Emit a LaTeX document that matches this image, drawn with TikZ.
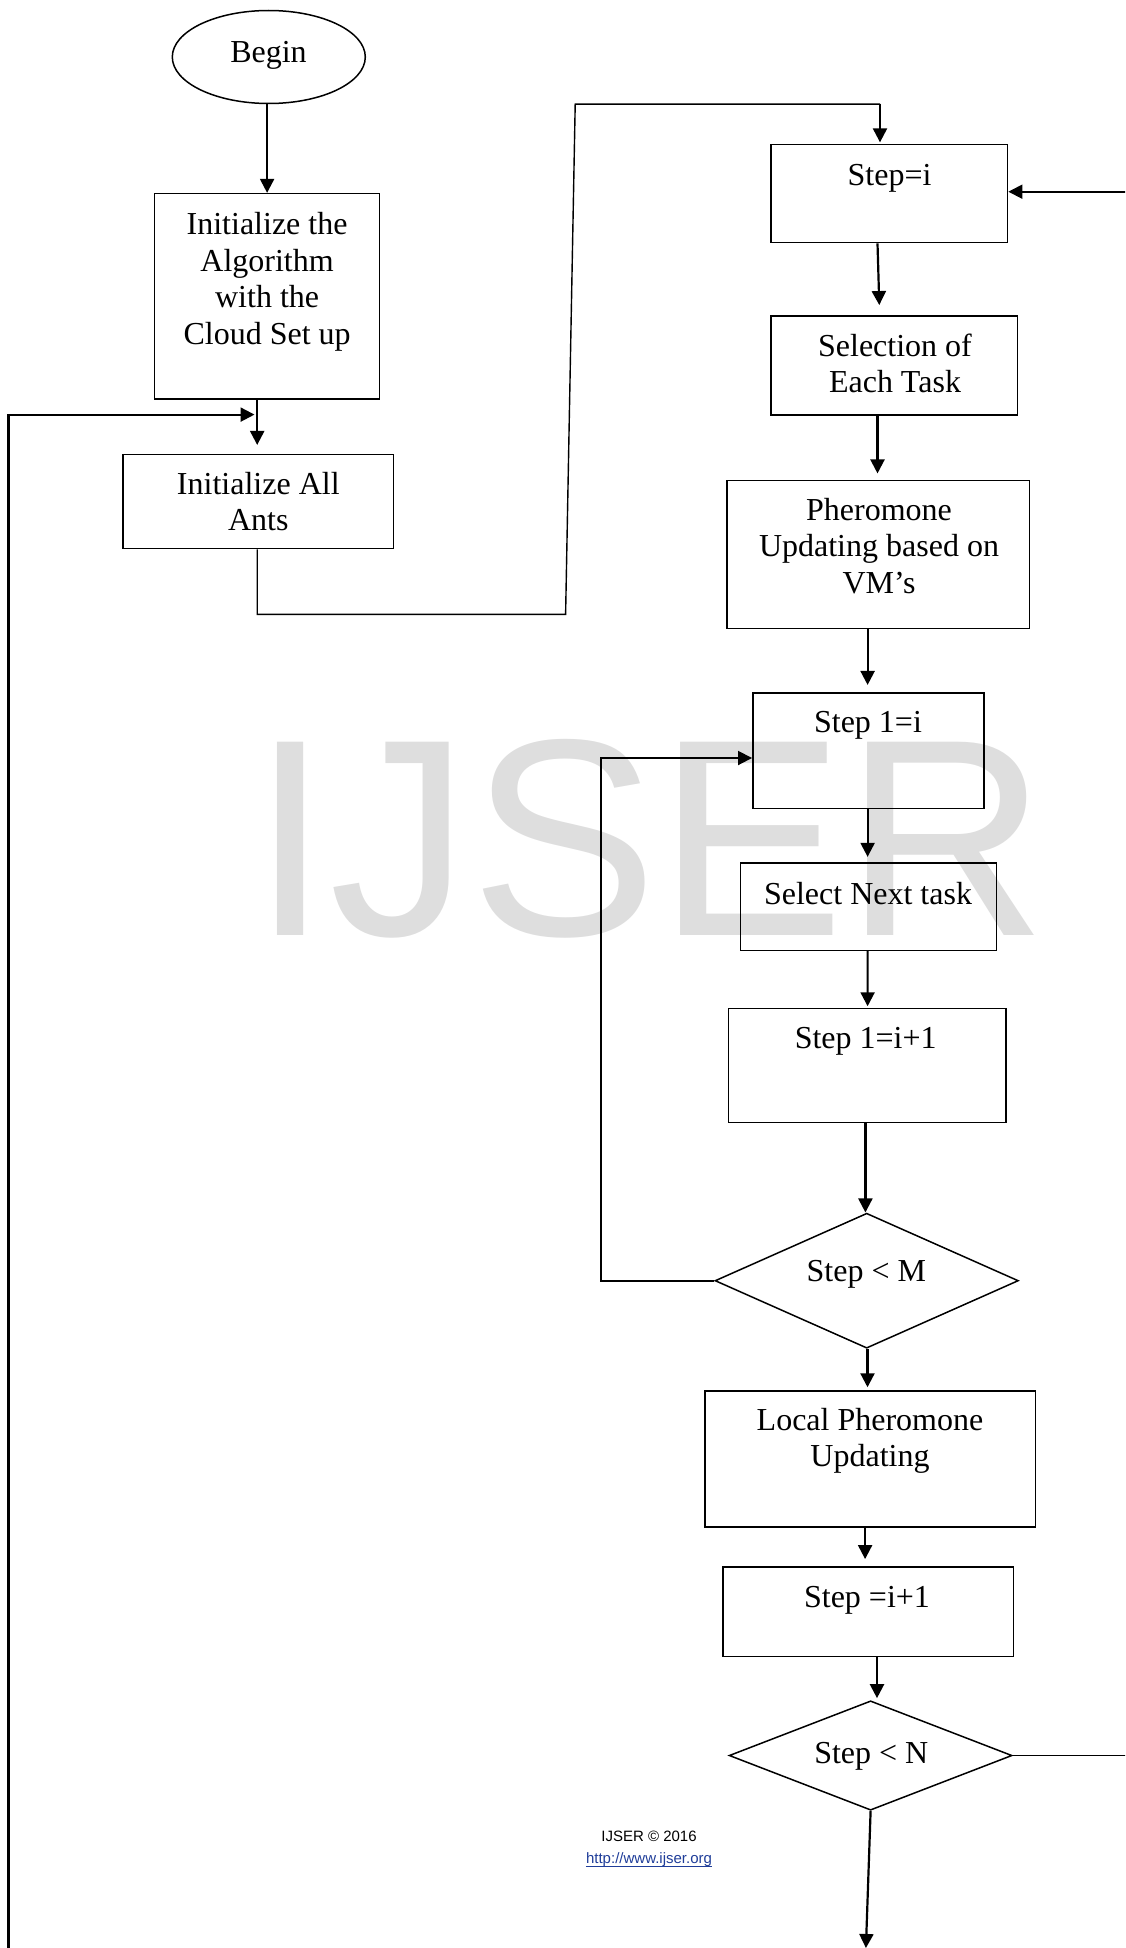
\documentclass[tikz,border=0pt]{standalone}
\usepackage{fontspec}
\setmainfont{Liberation Serif}
\newfontfamily\arialfont{Liberation Sans}
\usetikzlibrary{arrows.meta,shapes.geometric,calc}
\definecolor{urlc}{HTML}{1F3D99}
\definecolor{wmark}{gray}{0.87}
\tikzset{
  box/.style={draw, rectangle, line width=1.5pt, inner sep=0pt},
  dia/.style={draw, diamond, line width=1.5pt, inner sep=0pt},
  lbl/.style={font=\fontsize{32}{36.5}\selectfont, align=center, inner sep=0pt, anchor=base},
  arr/.style={line width=2.2pt, -{Triangle[length=14pt,width=14pt]}},
  thinln/.style={line width=1.4pt},
  loopln/.style={line width=1.8pt, -{Triangle[length=14pt,width=14pt]}},
}
\begin{document}
\begin{tikzpicture}[x=1pt,y=-1pt]
\useasboundingbox (0,0) rectangle (1125,1948);
\clip (0,0) rectangle (1125,1948);
% watermark
\node[anchor=base west, inner sep=0pt, text=wmark, font=\arialfont\fontsize{281}{281}\selectfont] (wm) at (251.3,935.5) {IJSER};

% shapes
\node[draw, ellipse, line width=1.5pt, inner sep=0pt, minimum width=193pt, minimum height=93pt] (begin) at (268.8,57) {};
\node[box, minimum width=225pt, minimum height=205.2pt] (init) at (267.1,296.2) {};
\node[box, minimum width=270.6pt, minimum height=94.1pt] (ants) at (258.1,501.45) {};
\node[box, minimum width=236.8pt, minimum height=98.3pt] (stepi) at (889.2,193.45) {};
\node[box, minimum width=246.7pt, minimum height=98.8pt] (sel) at (894.15,365.5) {};
\node[box, minimum width=302.5pt, minimum height=147.7pt] (pher) at (878.35,554.55) {};
\node[box, minimum width=231pt, minimum height=115.6pt] (s1) at (868.3,750.7) {};
\node[box, minimum width=255.6pt, minimum height=87.4pt] (nxt) at (868.5,906.7) {};
\node[box, minimum width=277.2pt, minimum height=113.8pt] (s1b) at (867.2,1065.4) {};
\node[dia, minimum width=303.4pt, minimum height=135pt] (dm) at (866.7,1280.7) {};
\node[box, minimum width=330.4pt, minimum height=136.2pt] (local) at (870.1,1458.9) {};
\node[box, minimum width=290.9pt, minimum height=89.6pt] (s2) at (868.25,1611.8) {};
\node[dia, minimum width=282.9pt, minimum height=109.4pt] (dn) at (870.6,1755.5) {};

% texts (anchor=base is the baseline of the last line)
\node[lbl] (tbegin) at (268.5,62.2) {Begin};
\node[lbl] (tinit) at (267.1,344) {Initialize the\\Algorithm\\with the\\Cloud Set up};
\node[lbl] (tants) at (258.3,530.7) {Initialize All\\Ants};
\node[lbl] (tstepi) at (889.6,185.2) {Step=i};
\node[lbl] (tsel) at (895,392.8) {Selection of\\Each Task};
\node[lbl] (tpher) at (879,593) {Pheromone\\Updating based on\\VM’s};
\node[lbl] (ts1) at (868,732.6) {Step 1=i};
\node[lbl] (tnxt) at (868,904.5) {Select Next task};
\node[lbl] (ts1b) at (865.7,1048.7) {Step 1=i+1};
\node[lbl] (tdm) at (866.3,1281) {Step {\textless} M};
\node[lbl] (tlocal) at (870,1466.5) {Local Pheromone\\Updating};
\node[lbl] (ts2) at (867,1607.4) {Step =i+1};
\node[lbl] (tdn) at (871.3,1763.8) {Step {\textless} N};

% footer
\node[inner sep=0pt, anchor=base, font=\arialfont\fontsize{15}{18}\selectfont] (copy) at (649,1841.7) {IJSER © 2016};
\node[inner sep=0pt, anchor=base, text=urlc, font=\arialfont\fontsize{15}{18}\selectfont] (url) at (649,1863.3) {http://www.ijser.org};
\draw[urlc, line width=1pt] ([yshift=-3.4pt]url.base west) -- ([yshift=-3.4pt]url.base east);

% coordinates
\coordinate (lbot) at (8.4,1960);
\coordinate (ljoin) at (254.5,414.6);
\coordinate (a1) at (257.2,614.4);
\coordinate (a2) at (565.6,614.4);
\coordinate (a3) at (575.2,104.1);
\coordinate (a4) at (880,104.1);
\coordinate (lx) at (600.6,1000);
\coordinate (rx) at (1140,1000);
\coordinate (bot) at (865.9,1948);

% connectors
\draw[arr] (begin.south -| init.north) -- (init.north);
\draw[arr] (init.south -| a1) -- ([yshift=8.7pt]ants.north -| a1);
\draw[loopln, line width=2.2pt] (lbot) |- (ljoin);
\draw[thinln] (ants.south -| a1) -- (a1) -- (a2) -- (a3) -- (a4);
\draw[arr] (a4) -- ([yshift=1.2pt]stepi.north -| a4);
\draw[arr] ([xshift=-11.7pt]stepi.south) -- ([xshift=-14.85pt,yshift=10.3pt]sel.north);
\draw[arr] ([xshift=-16.65pt]sel.south) -- ([xshift=-0.85pt,yshift=6.5pt]pher.north);
\draw[arr] ([xshift=-10.75pt]pher.south) -- ([xshift=-10.75pt,yshift=7.2pt]pher.south |- s1.north);
\draw[arr] ([xshift=-0.7pt]s1.south) -- ([xshift=-0.9pt,yshift=5.4pt]nxt.north);
\draw[arr] ([xshift=-0.9pt]nxt.south) -- ([xshift=0.4pt,yshift=1.5pt]s1b.north);
\draw[arr] ([xshift=-1.8pt]s1b.south) -- ([xshift=-1.3pt]dm.north);
\draw[loopln] (dm.west) -| (lx) |- ([yshift=-7.3pt]s1.west);
\draw[arr] ([xshift=0.8pt]dm.south) -- ([xshift=-2.6pt,yshift=2.8pt]local.north);
\draw[arr] ([xshift=-5pt]local.south) -- ([xshift=-3.15pt,yshift=7.2pt]s2.north);
\draw[arr] ([xshift=8.75pt]s2.south) -- ([xshift=6.4pt,yshift=1.9pt]dn.north);
\draw[loopln] (dn.east) -| (rx) |- ([yshift=1.75pt]stepi.east);
\draw[arr] (dn.south) -- (bot);
\end{tikzpicture}
\end{document}
